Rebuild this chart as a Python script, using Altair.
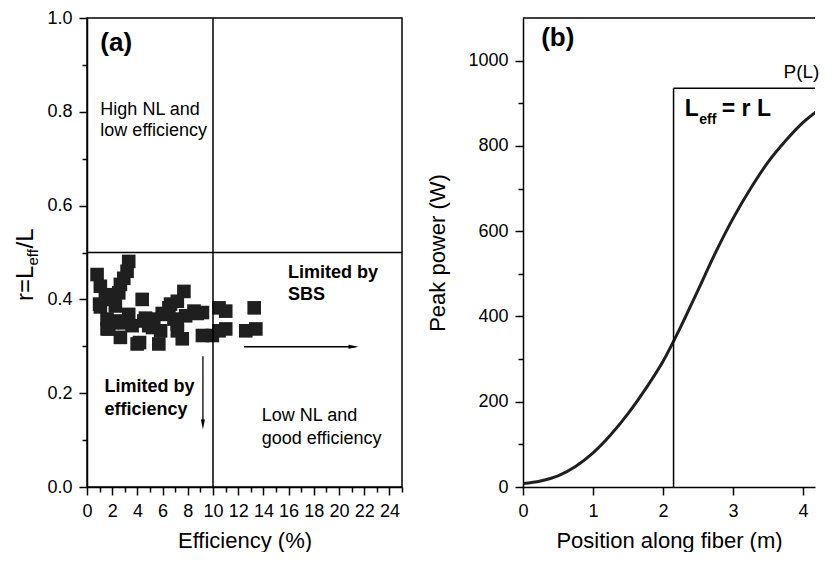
import altair as alt
import pandas as pd

FONT = "Liberation Sans"
INK = "#1f1f1f"

# ---------------- Panel (a) data ----------------
eff_pct = [0.80, 1.06, 1.06, 1.46, 1.59, 1.59, 2.12, 2.25, 2.52, 2.65, 2.92, 3.18, 3.31,
           2.65, 2.39, 3.31, 3.58, 4.38, 3.98, 4.51, 4.90, 5.30, 5.70, 5.84, 6.23, 6.50,
           6.90, 7.17, 7.17, 7.56, 7.69, 7.83, 8.49, 9.16, 9.16, 9.95, 10.48, 10.48,
           11.01, 11.01, 12.60, 13.27, 13.40, 1.00, 1.72, 4.17, 4.64, 5.97, 6.63, 8.75,
           7.17, 2.00, 3.00, 5.20]
r_ratio = [0.453, 0.428, 0.384, 0.410, 0.358, 0.337, 0.400, 0.386, 0.414, 0.432, 0.445,
           0.460, 0.481, 0.319, 0.354, 0.368, 0.344, 0.400, 0.305, 0.354, 0.344, 0.358,
           0.305, 0.333, 0.368, 0.382, 0.358, 0.333, 0.396, 0.316, 0.417, 0.365, 0.375,
           0.372, 0.323, 0.323, 0.382, 0.333, 0.375, 0.337, 0.333, 0.382, 0.337, 0.390,
           0.337, 0.308, 0.360, 0.370, 0.390, 0.370, 0.347, 0.350, 0.350, 0.340]

eff_limit = 10
r_limit = 0.5

note_a_text = ["High NL and", "low efficiency", "Low NL and", "good efficiency"]
note_a_x = [1.06, 1.06, 13.87, 13.87]
note_a_y = [0.804, 0.758, 0.151, 0.102]

bold_a_text = ["Limited by", "SBS", "Limited by", "efficiency"]
bold_a_x = [15.95, 15.95, 1.39, 1.39]
bold_a_y = [0.456, 0.410, 0.214, 0.165]

# arrows: start/end
harrow = {"x": [12.47], "x2": [21.3], "y": [0.299]}
harrow_head = {"x": [21.15], "y": [0.299]}
varrow = {"x": [9.2], "y": [0.279], "y2": [0.135]}
varrow_head = {"x": [9.2], "y": [0.133]}

# ---------------- Panel (b) data ----------------
pos_m = [0, 0.25, 0.5, 0.75, 1.0, 1.25, 1.5, 1.75, 2.0, 2.25, 2.5, 2.75, 3.0, 3.25, 3.5,
         3.75, 4.0, 4.25, 4.5]
peak_w = [8, 14, 26, 48, 80, 122, 172, 230, 295, 375, 462, 550, 630, 700, 762, 812, 855,
          888, 915]
leff_x = 2.15
leff_top = 935
x_max_b = 4.17

# ---------------- Axis helpers ----------------
AXIS_STYLE = dict(
    domainColor="black", domainWidth=1.5, tickColor="black", tickWidth=1.5,
    labelFont=FONT, labelFontSize=18, labelColor="black",
    titleFont=FONT, titleFontSize=22, titleColor="black", titleFontWeight="normal",
    grid=False, labelOverlap=False, labelFlush=False,
)


def tick_size(test):
    return {"condition": {"test": test, "value": 8}, "value": 5}


ax_xa = alt.Axis(values=list(range(0, 26)),
                 labelExpr="datum.value % 2 === 0 ? datum.label : ''",
                 tickSize=tick_size("datum.value % 2 === 0"), labelPadding=7,
                 title="Efficiency (%)", titlePadding=10, **AXIS_STYLE)
ax_ya = alt.Axis(values=[i / 10 for i in range(0, 11)], format=".1f",
                 labelExpr="round(datum.value*10) % 2 === 0 ? datum.label : ''",
                 tickSize=tick_size("round(datum.value*10) % 2 === 0"), labelPadding=7,
                 title=None, **AXIS_STYLE)
sx_a = alt.Scale(domain=[0, 25], nice=False, zero=False)
sy_a = alt.Scale(domain=[0, 1], nice=False, zero=False)


def XA(f="x"):
    return alt.X(f"{f}:Q", scale=sx_a, axis=ax_xa)


def YA(f="y"):
    return alt.Y(f"{f}:Q", scale=sy_a, axis=ax_ya)


pts = pd.DataFrame({"x": eff_pct, "y": r_ratio})
scatter = alt.Chart(pts).mark_square(size=185, color=INK, opacity=1).encode(x=XA(), y=YA())

vline = alt.Chart(pd.DataFrame({"x": [eff_limit]})).mark_rule(color="black", strokeWidth=1.5).encode(x=XA())
hline = alt.Chart(pd.DataFrame({"y": [r_limit]})).mark_rule(color="black", strokeWidth=1.5).encode(y=YA())

harrow_line = alt.Chart(pd.DataFrame(harrow)).mark_rule(color="black", strokeWidth=1.3).encode(
    x=XA(), x2="x2:Q", y=YA())
harrow_tip = alt.Chart(pd.DataFrame(harrow_head)).mark_point(
    shape="M-1,-0.4L1,0L-1,0.4Z", filled=True, size=100, color="black", opacity=1).encode(x=XA(), y=YA())
varrow_line = alt.Chart(pd.DataFrame(varrow)).mark_rule(color="black", strokeWidth=1.3).encode(
    x=XA(), y=YA(), y2="y2:Q")
varrow_tip = alt.Chart(pd.DataFrame(varrow_head)).mark_point(
    shape="M-0.4,-1L0,1L0.4,-1Z", filled=True, size=100, color="black", opacity=1).encode(x=XA(), y=YA())

notes_a = alt.Chart(pd.DataFrame({"x": note_a_x, "y": note_a_y, "t": note_a_text})).mark_text(
    align="left", baseline="middle", fontSize=18, color="black").encode(x=XA(), y=YA(), text="t:N")
bold_a = alt.Chart(pd.DataFrame({"x": bold_a_x, "y": bold_a_y, "t": bold_a_text})).mark_text(
    align="left", baseline="middle", fontSize=18, fontWeight="bold", color="black").encode(x=XA(), y=YA(), text="t:N")
label_a = alt.Chart(pd.DataFrame({"x": [1.06], "y": [0.946], "t": ["(a)"]})).mark_text(
    align="left", baseline="middle", fontSize=26, fontWeight="bold", color="black").encode(x=XA(), y=YA(), text="t:N")

# y-axis title r=L_eff/L drawn as rotated text pieces
YT_X, YT_Y = -54, 283
yt1 = alt.Chart(pd.DataFrame({"t": ["r=L"]})).mark_text(
    angle=270, align="left", baseline="alphabetic", fontSize=24, color="black").encode(
    x=alt.value(YT_X), y=alt.value(YT_Y), text="t:N")
yt2 = alt.Chart(pd.DataFrame({"t": ["eff"]})).mark_text(
    angle=270, align="left", baseline="alphabetic", fontSize=15, color="black", dx=35.5, dy=5).encode(
    x=alt.value(YT_X), y=alt.value(YT_Y), text="t:N")
yt3 = alt.Chart(pd.DataFrame({"t": ["/L"]})).mark_text(
    angle=270, align="left", baseline="alphabetic", fontSize=24, color="black", dx=52.5).encode(
    x=alt.value(YT_X), y=alt.value(YT_Y), text="t:N")

panel_a = alt.layer(
    scatter, vline, hline, harrow_line, harrow_tip, varrow_line, varrow_tip,
    notes_a, bold_a, label_a, yt1, yt2, yt3,
).properties(width=315, height=469)

# ---------------- Panel (b) ----------------
ax_xb = alt.Axis(values=[i / 2 for i in range(0, 9)],
                 labelExpr="datum.value % 1 === 0 ? datum.label : ''",
                 tickSize=tick_size("datum.value % 1 === 0"), format="d", labelPadding=7,
                 title="Position along fiber (m)", titlePadding=10, **AXIS_STYLE)
ax_yb = alt.Axis(values=list(range(0, 1001, 100)),
                 labelExpr="datum.value % 200 === 0 ? datum.label : ''",
                 tickSize=tick_size("datum.value % 200 === 0"), format="d", labelPadding=7,
                 title="Peak power (W)", titlePadding=18, **AXIS_STYLE)
sx_b = alt.Scale(domain=[0, x_max_b], nice=False, zero=False)
sy_b = alt.Scale(domain=[0, 1100], nice=False, zero=False)


def XB(f="x"):
    return alt.X(f"{f}:Q", scale=sx_b, axis=ax_xb)


def YB(f="y"):
    return alt.Y(f"{f}:Q", scale=sy_b, axis=ax_yb)


curve = alt.Chart(pd.DataFrame({"x": pos_m, "y": peak_w})).mark_line(
    color=INK, strokeWidth=3, interpolate="monotone", clip=True).encode(x=XB(), y=YB())
leff_v = alt.Chart(pd.DataFrame({"x": [leff_x], "y": [0], "y2": [leff_top]})).mark_rule(
    color="black", strokeWidth=1.5).encode(x=XB(), y=YB(), y2="y2:Q")
leff_h = alt.Chart(pd.DataFrame({"x": [leff_x], "x2": [x_max_b], "y": [leff_top]})).mark_rule(
    color="black", strokeWidth=1.5).encode(x=XB(), x2="x2:Q", y=YB())
top_b = alt.Chart(pd.DataFrame({"y": [1100]})).mark_rule(color="black", strokeWidth=1.5).encode(y=YB())

label_b = alt.Chart(pd.DataFrame({"x": [0.26], "y": [1053], "t": ["(b)"]})).mark_text(
    align="left", baseline="middle", fontSize=26, fontWeight="bold", color="black").encode(x=XB(), y=YB(), text="t:N")
leff1 = alt.Chart(pd.DataFrame({"x": [2.31], "y": [870], "t": ["L"]})).mark_text(
    align="left", baseline="alphabetic", fontSize=23, fontWeight="bold", color="black").encode(x=XB(), y=YB(), text="t:N")
leff2 = alt.Chart(pd.DataFrame({"x": [2.31], "y": [870], "t": ["eff"]})).mark_text(
    align="left", baseline="alphabetic", fontSize=14, fontWeight="bold", color="black", dx=14.5, dy=8).encode(x=XB(), y=YB(), text="t:N")
leff3 = alt.Chart(pd.DataFrame({"x": [2.31], "y": [870], "t": ["= r L"]})).mark_text(
    align="left", baseline="alphabetic", fontSize=23, fontWeight="bold", color="black", dx=37).encode(x=XB(), y=YB(), text="t:N")
pl = alt.Chart(pd.DataFrame({"x": [3.72], "y": [960], "t": ["P(L)"]})).mark_text(
    align="left", baseline="alphabetic", fontSize=19, color="black").encode(x=XB(), y=YB(), text="t:N")

panel_b = alt.layer(
    curve, leff_v, leff_h, top_b, label_b, leff1, leff2, leff3, pl,
    view=alt.ViewBackground(stroke="transparent"),
).properties(width=292, height=469)

chart = alt.hconcat(panel_a, panel_b, spacing=22).properties(
    padding={"left": 5, "top": 0, "right": 0, "bottom": 0}
).configure(font=FONT).configure_view(stroke="black", strokeWidth=1.5)

chart.save("out.html", embed_options={"renderer": "svg", "actions": False})
